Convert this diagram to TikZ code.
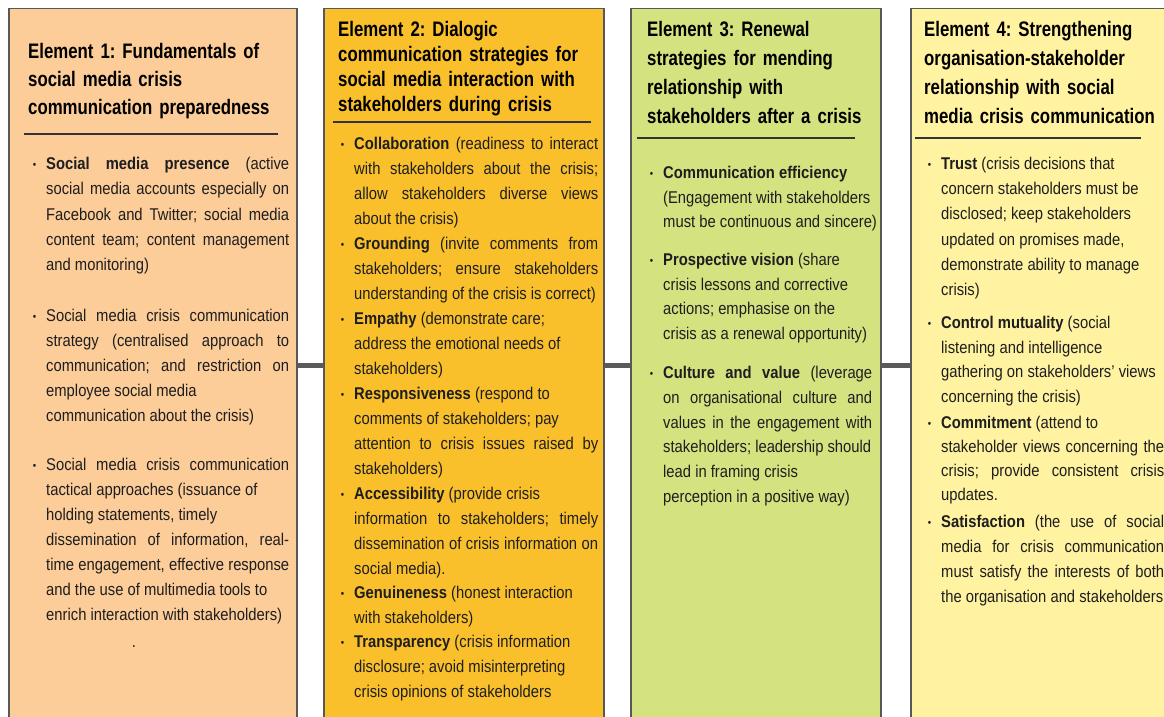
\documentclass[tikz,border=0pt]{standalone}
\usepackage{fontspec}
\setmainfont{Liberation Sans}[FakeStretch=0.87]
\newfontfamily\headfont{Liberation Sans}[FakeStretch=0.8]

\definecolor{elemA}{RGB}{252,204,153}
\definecolor{elemB}{RGB}{250,192,44}
\definecolor{elemC}{RGB}{213,226,128}
\definecolor{elemD}{RGB}{255,242,160}
\definecolor{boxline}{RGB}{88,88,88}
\definecolor{linkgray}{RGB}{90,90,90}
\definecolor{bodyink}{RGB}{30,30,30}

%% bullet hung in the left margin of an item
\newcommand{\itemdot}{\leavevmode\llap{\raisebox{1.5pt}{\fontsize{11}{11}\selectfont\textbullet}\hspace{10pt}}}
\newcommand{\bodysize}[1]{\fontsize{17}{#1}\selectfont\tolerance=10000\relax}
\frenchspacing

\begin{document}
\begin{tikzpicture}
[x=1pt, y=-1pt,
 elembox/.style={draw=boxline, line width=1.5pt, anchor=north west,
   minimum height=714pt, inner sep=0pt},
 linkdecorate/.style={-, line width=5pt, draw=linkgray},
 headrule/.style={line width=1.2pt, draw=black!80},
 headline/.style 2 args={anchor=base west, inner sep=0pt, align=left,
   text width=#1, font=\headfont\bfseries\fontsize{21}{#2}\selectfont\frenchspacing},
 itemtext/.style 2 args={anchor=base west, inner sep=0pt, align=justify,
   text width=#1, text=bodyink, font=\bodysize{#2}\frenchspacing}]
\clip (0,0) rectangle (1164,717);
%% the four element columns
\foreach \boxname/\x/\w/\shade in {elem1/8/288/elemA, elem2/323/280/elemB,
  elem3/630/250/elemC, elem4/910/275/elemD} {
  \node (\boxname) at (\x,8) [elembox, fill=\shade, minimum width=\w pt] {};
}
%% links between neighbouring columns
\path
\foreach \startnode/\endnode in {elem1/elem2, elem2/elem3, elem3/elem4} {
  (\startnode) edge[linkdecorate] (\endnode)
};
%% headings
\node (head1) at (28,59) [headline={262pt}{27.5}]
  {Element 1: Fundamentals of\\ social media crisis\\ communication preparedness};
\node (head2) at (338,37) [headline={262pt}{24.7}]
  {Element 2: Dialogic\\ communication strategies for\\ social media interaction with\\ stakeholders during crisis};
\node (head3) at (647,37) [headline={225pt}{29}]
  {Element 3: Renewal\\ strategies for mending\\ relationship with\\ stakeholders after a crisis};
\node (head4) at (924,37) [headline={240pt}{29}]
  {Element 4: Strengthening\\ organisation-stakeholder\\ relationship with social\\ media crisis communication};
\draw[headrule] (24,134) -- (278,134);
\draw[headrule] (333,122) -- (591,122);
\draw[headrule] (637,138) -- (855,138);
\draw[headrule] (915,138) -- (1141,138);
%% element 1
\node (presence) at (46,169.5) [itemtext={243pt}{25.3}]
  {\itemdot\textbf{Social media presence} (active\linebreak social media accounts especially on\linebreak Facebook and Twitter; social media\linebreak content team; content management\linebreak and monitoring)};
\node (strategy) at (46,321.5) [itemtext={243pt}{25.1}]
  {\itemdot Social media crisis communication\linebreak strategy (centralised approach to\linebreak communication; and restriction on\linebreak employee social media\newline communication about the crisis)};
\node (tactics) at (46,470.5) [itemtext={243pt}{25}]
  {\itemdot Social media crisis communication\linebreak tactical approaches (issuance of\newline holding statements, timely\newline dissemination of information, real-\linebreak time engagement, effective response\linebreak and the use of multimedia tools to\newline enrich interaction with stakeholders)};
\node (stray) at (134,647) [anchor=base, inner sep=0pt, text=bodyink, font=\bodysize{20}] {.};
%% element 2
\node (collab) at (354,149.5) [itemtext={244pt}{24.9}]
  {\itemdot\textbf{Collaboration} (readiness to interact\linebreak with stakeholders about the crisis;\linebreak allow stakeholders diverse views\linebreak about the crisis)};
\node (ground) at (354,249.5) [itemtext={244pt}{24.9}]
  {\itemdot\textbf{Grounding} (invite comments from\linebreak stakeholders; ensure stakeholders\linebreak understanding of the crisis is correct)};
\node (empathy) at (354,324.5) [itemtext={244pt}{24.9}]
  {\itemdot\textbf{Empathy} (demonstrate care;\newline address the emotional needs of\newline stakeholders)};
\node (respons) at (354,399.5) [itemtext={244pt}{24.9}]
  {\itemdot\textbf{Responsiveness} (respond to\newline comments of stakeholders; pay\newline attention to crisis issues raised by\linebreak stakeholders)};
\node (access) at (354,499.5) [itemtext={244pt}{24.9}]
  {\itemdot\textbf{Accessibility} (provide crisis\newline information to stakeholders; timely\linebreak dissemination of crisis information on\linebreak social media).};
\node (genuine) at (354,598.5) [itemtext={244pt}{24.9}]
  {\itemdot\textbf{Genuineness} (honest interaction\newline with stakeholders)};
\node (transp) at (354,647.5) [itemtext={244pt}{24.9}]
  {\itemdot\textbf{Transparency} (crisis information\newline disclosure; avoid misinterpreting\newline crisis opinions of stakeholders};
%% element 3
\node (efficiency) at (663,178.5) [itemtext={216pt}{24.5}]
  {\itemdot\textbf{Communication efficiency}\newline (Engagement with stakeholders\newline must be continuous and sincere)};
\node (vision) at (663,265.5) [itemtext={216pt}{24.7}]
  {\itemdot\textbf{Prospective vision} (share\newline crisis lessons and corrective\newline actions; emphasise on the\newline crisis as a renewal opportunity)};
\node (culture) at (663,378.5) [itemtext={209pt}{24.8}]
  {\itemdot\textbf{Culture and value} (leverage\linebreak on organisational culture and\linebreak values in the engagement with\linebreak stakeholders; leadership should\newline lead in framing crisis\newline perception in a positive way)};
%% element 4
\node (trust) at (941,169.5) [itemtext={223pt}{25.2}]
  {\itemdot\textbf{Trust} (crisis decisions that\newline concern stakeholders must be\newline disclosed; keep stakeholders\newline updated on promises made,\newline demonstrate ability to manage\newline crisis)};
\node (mutual) at (941,328.5) [itemtext={223pt}{24.7}]
  {\itemdot\textbf{Control mutuality} (social\newline listening and intelligence\newline gathering on stakeholders' views\newline concerning the crisis)};
\node (commit) at (941,428.5) [itemtext={223pt}{24}]
  {\itemdot\textbf{Commitment} (attend to\newline stakeholder views concerning the\linebreak crisis; provide consistent crisis\linebreak updates.};
\node (satisf) at (941,527.5) [itemtext={223pt}{25}]
  {\itemdot\textbf{Satisfaction} (the use of social\linebreak media for crisis communication\linebreak must satisfy the interests of both\linebreak the organisation and stakeholders};
\end{tikzpicture}
\end{document}
